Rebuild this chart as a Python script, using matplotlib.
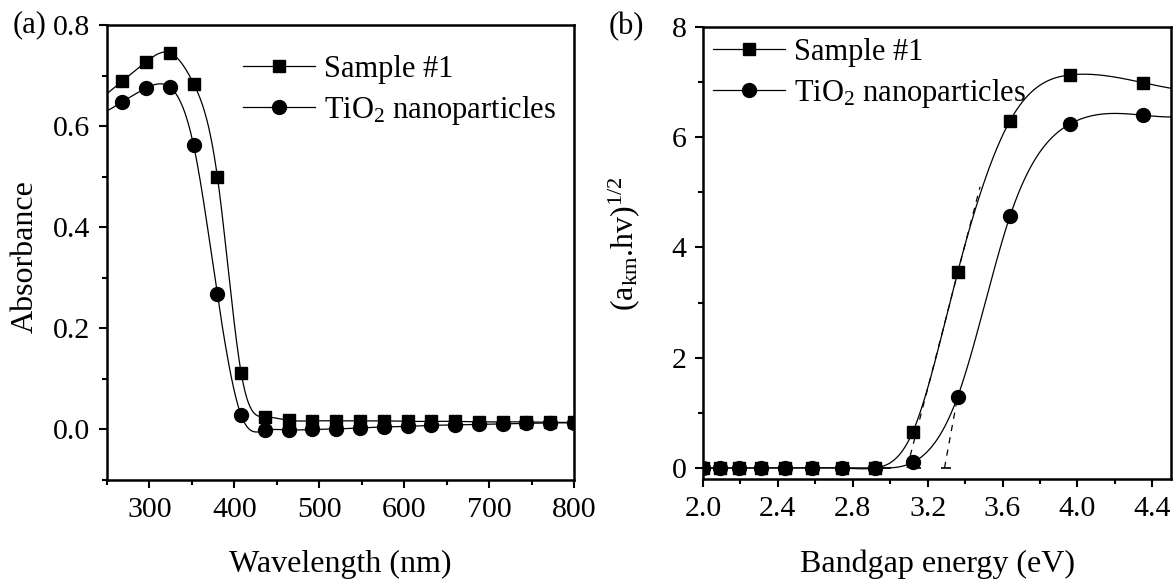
import numpy as np
import matplotlib.pyplot as plt
from matplotlib.ticker import MultipleLocator, FormatStrFormatter

plt.rcParams['font.family'] = ['Liberation Serif', 'DejaVu Serif']
plt.rcParams['mathtext.fontset'] = 'custom'
plt.rcParams['mathtext.rm'] = 'Liberation Serif'
plt.rcParams['mathtext.it'] = 'Liberation Serif:italic'
plt.rcParams['font.size'] = 22

TICK_SIZE = 21.5
LABEL_SIZE = 23
LEGEND_SIZE = 22

# (a) UV-vis absorbance
wavelength = [268, 296, 324, 352, 380, 408, 436, 464, 492, 520,
              548, 576, 604, 632, 660, 688, 716, 744, 772, 800]
abs_sample = [0.689, 0.727, 0.745, 0.684, 0.500, 0.112, 0.025, 0.018, 0.017, 0.017,
              0.017, 0.017, 0.016, 0.016, 0.016, 0.015, 0.015, 0.015, 0.014, 0.014]
abs_tio2 = [0.648, 0.675, 0.677, 0.562, 0.267, 0.028, -0.002, -0.001, 0.000, 0.001,
            0.003, 0.005, 0.006, 0.008, 0.009, 0.010, 0.011, 0.012, 0.013, 0.013]

# (b) Tauc plot
energy = [2.00, 2.09, 2.19, 2.31, 2.44, 2.58, 2.74, 2.92, 3.12, 3.36, 3.64, 3.96, 4.35]
tauc_sample = [0, 0, 0, 0, 0, 0, 0, 0, 0.65, 3.55, 6.30, 7.13, 6.99]
tauc_tio2 = [0, 0, 0, 0, 0, 0, 0, 0, 0.10, 1.29, 4.57, 6.24, 6.40]

# extrapolated band edges
tangent_sample_x = [3.09, 3.48]
tangent_sample_y = [0.0, 5.1]
tangent_tio2_x = [3.29, 3.36]
tangent_tio2_y = [0.0, 1.29]
baseline_x = [2.95, 3.42]
baseline_y = [0.0, 0.0]

labels = ['Sample #1', r'TiO$_{\mathregular{2}}$ nanoparticles']


def natural_spline(x, y, xs):
    x = np.asarray(x, float)
    y = np.asarray(y, float)
    n = len(x)
    h = np.diff(x)
    A = np.zeros((n, n))
    r = np.zeros(n)
    A[0, 0] = A[-1, -1] = 1
    for i in range(1, n - 1):
        A[i, i - 1] = h[i - 1]
        A[i, i] = 2 * (h[i - 1] + h[i])
        A[i, i + 1] = h[i]
        r[i] = 3 * ((y[i + 1] - y[i]) / h[i] - (y[i] - y[i - 1]) / h[i - 1])
    c = np.linalg.solve(A, r)
    b = (y[1:] - y[:-1]) / h - h * (2 * c[:-1] + c[1:]) / 3
    d = (c[1:] - c[:-1]) / (3 * h)
    idx = np.clip(np.searchsorted(x, xs) - 1, 0, n - 2)
    t = xs - x[idx]
    return y[idx] + b[idx] * t + c[idx] * t ** 2 + d[idx] * t ** 3


def style_axes(ax):
    for s in ax.spines.values():
        s.set_linewidth(1.8)
    ax.tick_params(which='both', direction='out', top=False, right=False, width=1.5,
                   labelsize=TICK_SIZE)
    ax.tick_params(which='major', length=6, pad=6)
    ax.tick_params(which='minor', length=3.5)


def add_legend(ax, x, y):
    ax.plot([], [], '-s', color='black', lw=0.9, ms=8.5, label=labels[0])
    ax.plot([], [], '-o', color='black', lw=0.9, ms=10, label=labels[1])
    ax.legend(loc='upper left', bbox_to_anchor=(x / W, 1 - y / H), bbox_transform=fig.transFigure,
              frameon=False, borderpad=0, borderaxespad=0, handlelength=2.35,
              handletextpad=0.3, labelspacing=0.33, fontsize=LEGEND_SIZE)


W, H = 1175, 579
fig = plt.figure(figsize=(W / 100, H / 100), dpi=100)
ax1 = fig.add_axes([107 / W, 1 - 480 / H, (574 - 107) / W, (480 - 25) / H])
ax2 = fig.add_axes([703 / W, 1 - 479 / H, (1171 - 703) / W, (479 - 27) / H])

# panel (a)
xs = np.linspace(250, 800, 600)
ax1.plot(xs, natural_spline(wavelength, abs_sample, xs), color='black', lw=0.9)
ax1.plot(xs, natural_spline(wavelength, abs_tio2, xs), color='black', lw=0.9)
ax1.plot(wavelength, abs_sample, 's', color='black', ms=8.5)
ax1.plot(wavelength, abs_tio2, 'o', color='black', ms=10)
ax1.set_xlim(250, 800)
ax1.set_ylim(-0.1, 0.8)
ax1.xaxis.set_major_locator(MultipleLocator(100))
ax1.xaxis.set_minor_locator(MultipleLocator(50))
ax1.yaxis.set_major_locator(MultipleLocator(0.2))
ax1.yaxis.set_minor_locator(MultipleLocator(0.1))
ax1.yaxis.set_major_formatter(FormatStrFormatter('%.1f'))
style_axes(ax1)
ax1.set_xlabel('Wavelength (nm)', fontsize=LABEL_SIZE)
ax1.set_ylabel('Absorbance', fontsize=LABEL_SIZE)
ax1.xaxis.set_label_coords(0.5, -0.153)
ax1.yaxis.set_label_coords(-0.143, 0.492)
add_legend(ax1, 243, 55)

# panel (b)
es = np.linspace(2.0, 4.5, 600)
ax2.plot(es, natural_spline(energy, tauc_sample, es), color='black', lw=0.9)
ax2.plot(es, natural_spline(energy, tauc_tio2, es), color='black', lw=0.9)
ax2.plot(energy, tauc_sample, 's', color='black', ms=8.5)
ax2.plot(energy, tauc_tio2, 'o', color='black', ms=10)
ax2.plot(tangent_sample_x, tangent_sample_y, color='black', lw=0.9, ls=(0, (5, 5)))
ax2.plot(tangent_tio2_x, tangent_tio2_y, color='black', lw=0.9, ls=(0, (5, 5)))
ax2.plot(baseline_x, baseline_y, color='black', lw=1.2, ls=(0, (6, 12)))
ax2.set_xlim(2.0, 4.5)
ax2.set_ylim(-0.2, 8)
ax2.xaxis.set_major_locator(MultipleLocator(0.4))
ax2.xaxis.set_minor_locator(MultipleLocator(0.2))
ax2.xaxis.set_major_formatter(FormatStrFormatter('%.1f'))
ax2.yaxis.set_major_locator(MultipleLocator(2))
ax2.yaxis.set_minor_locator(MultipleLocator(1))
style_axes(ax2)
ax2.set_xlabel('Bandgap energy (eV)', fontsize=LABEL_SIZE)
ax2.set_ylabel(r'(a$_{\mathregular{km}}$.hv)$^{\mathregular{1/2}}$', fontsize=LABEL_SIZE)
ax2.xaxis.set_label_coords(0.5, -0.155)
ax2.yaxis.set_label_coords(-0.13, 0.52)
add_legend(ax2, 713, 38)

fig.text(13 / W, 1 - 25 / H, '(a)', ha='left', va='center', fontsize=LEGEND_SIZE)
fig.text(609 / W, 1 - 27 / H, '(b)', ha='left', va='center', fontsize=LEGEND_SIZE)

fig.savefig('out.png', dpi=100)
